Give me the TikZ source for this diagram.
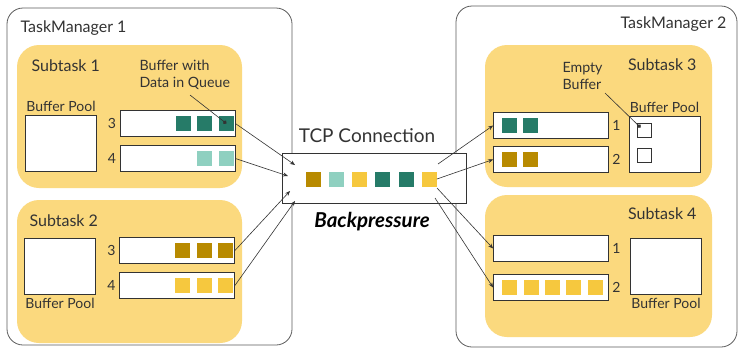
\documentclass[tikz,border=0pt]{standalone}
\usepackage{fontspec}
\setmainfont{Lato}
\usepackage{xcolor}
\usepackage{tikz}
\usetikzlibrary{arrows.meta, positioning, calc}
\definecolor{Ink}{HTML}{333333}
\definecolor{Sand}{HTML}{FBD97E}
\definecolor{Teal}{HTML}{267B68}
\definecolor{Mint}{HTML}{8FD0C0}
\definecolor{Ochre}{HTML}{B88A00}
\definecolor{Sun}{HTML}{F6C83E}

\begin{document}
\begin{tikzpicture}[
        x=1pt, y=-1pt,
        font=\fontsize{14}{16}\selectfont, text=Ink,
        rel/.style={-{Stealth[length=5pt,width=4pt]}, line width=0.6pt, draw=Ink},
        pin/.style={-{Circle[length=4pt]}, line width=0.6pt, draw=Ink},
        manager/.style={draw=Ink!80, fill=white, rounded corners=16pt, line width=0.8pt, minimum width=#1, minimum height=341pt, inner sep=0pt},
        subtask/.style={fill=Sand, rounded corners=22pt, minimum width=#1, minimum height=143pt, inner sep=0pt},
        queue/.style={draw=Ink, fill=white, line width=0.8pt, minimum width=115pt, minimum height=26pt, inner sep=0pt},
        pool/.style={draw=Ink, fill=white, line width=0.8pt, minimum width=71pt, minimum height=56pt, inner sep=0pt},
        slot/.style={fill=#1, minimum size=15pt, inner sep=0pt},
        empty/.style={draw=Ink, fill=white, line width=0.7pt, minimum size=14pt, inner sep=0pt},
        big/.style={font=\fontsize{16}{19}\selectfont}
      ]
        \useasboundingbox (0,0) rectangle (738,349);
        % task managers
        \node[manager=285pt, minimum height=337pt] (tm1) at (149.5,176.5) {};
        \node[manager=281pt] (tm2) at (596.5,176.5) {};
        \node[big, anchor=west] (tm1label) at (17,28) {TaskManager 1};
        \node[big, anchor=east] (tm2label) at (730,24) {TaskManager 2};

        % subtasks
        \node[subtask=225pt] (sub1) at (129.5,116.5) {};
        \node[subtask=225pt] (sub2) at (129.5,271.5) {};
        \node[subtask=227pt, minimum height=142pt] (sub3) at (598.5,116) {};
        \node[subtask=227pt, minimum height=142pt] (sub4) at (598.5,266) {};
        \node[big, anchor=west] (sub1label) at (28,66) {Subtask 1};
        \node[big, anchor=west] (sub2label) at (26,221) {Subtask 2};
        \node[big, anchor=east] (sub3label) at (700,65) {Subtask 3};
        \node[big, anchor=east] (sub4label) at (700,214) {Subtask 4};

        % buffer pools
        \node[pool] (pool1) at (61,143.5) {};
        \node[pool] (pool2) at (60,266) {};
        \node[pool] (pool3) at (664.5,144.5) {};
        \node[pool] (pool4) at (666,266) {};
        \node[above=0pt of pool1] (pool1label) {Buffer Pool};
        \node[below=0pt of pool2] (pool2label) {Buffer Pool};
        \node[above=0pt of pool3] (pool3label) {Buffer Pool};
        \node[below=0pt of pool4] (pool4label) {Buffer Pool};
        \node[empty] (free1) at (644.5,130.5) {};
        \node[empty] (free2) at (644.5,155) {};

        % input and output queues
        \node[queue] (q13) at (177.5,123.5) {};
        \node[queue] (q14) at (177.5,158.5) {};
        \node[queue] (q23) at (177,250.5) {};
        \node[queue] (q24) at (177,285.5) {};
        \node[queue] (q31) at (551,125.5) {};
        \node[queue] (q32) at (551,159.5) {};
        \node[queue] (q41) at (551,248.5) {};
        \node[queue] (q42) at (551,287.5) {};
        \node[left=0pt of q13] {3};
        \node[left=0pt of q14] {4};
        \node[left=0pt of q23] {3};
        \node[left=0pt of q24] {4};
        \node[right=0pt of q31] {1};
        \node[right=0pt of q32] {2};
        \node[right=0pt of q41] {1};
        \node[right=0pt of q42] {2};

        \foreach \i/\c in {1/Teal,2/Teal,3/Teal}
          \node[slot=\c] (q13s\i) at ($(q13.east)+(-73.5+21.5*\i,0)$) {};
        \foreach \i/\c in {2/Mint,3/Mint}
          \node[slot=\c] (q14s\i) at ($(q14.east)+(-73.5+21.5*\i,0)$) {};
        \foreach \i/\c in {1/Ochre,2/Ochre,3/Ochre}
          \node[slot=\c] (q23s\i) at ($(q23.east)+(-73.5+21.5*\i,0)$) {};
        \foreach \i/\c in {1/Sun,2/Sun,3/Sun}
          \node[slot=\c] (q24s\i) at ($(q24.east)+(-73.5+21.5*\i,0)$) {};
        \foreach \i/\c in {1/Teal,2/Teal}
          \node[slot=\c] (q31s\i) at ($(q31.west)+(-5+21*\i,0)$) {};
        \foreach \i/\c in {1/Ochre,2/Ochre}
          \node[slot=\c] (q32s\i) at ($(q32.west)+(-5+21*\i,0)$) {};
        \foreach \i in {1,...,5}
          \node[slot=Sun] (q42s\i) at ($(q42.west)+(-4.5+21.3*\i,0)$) {};

        % tcp connection
        \node[draw=Ink, fill=white, line width=0.8pt, minimum width=184pt, minimum height=50pt, inner sep=0pt] (tcp) at (374,178) {};
        \node[font=\fontsize{19}{22}\selectfont] (tcplabel) at (367,136) {TCP Connection};
        \node[font=\fontsize{20.5}{24}\selectfont\bfseries\itshape, text=black] (back) at (372,222) {Backpressure};
        \foreach \i/\c in {1/Ochre,2/Mint,3/Sun,4/Teal,5/Teal,6/Sun}
          \node[slot=\c] (t\i) at (290+23.2*\i,179) {};

        % connectors
        \coordinate (in1) at (295,165);
        \coordinate (in2) at (288,176);
        \coordinate (in3) at (290,191);
        \coordinate (in4) at (295,201);
        \coordinate (out1) at (438,164);
        \coordinate (out3) at (437,188);
        \coordinate (out4) at (435,198);
        \draw[rel] (q13.east) -- (in1);
        \draw[rel] (q14.east) -- (in2);
        \draw[rel] (q23.east) -- (in3);
        \draw[rel] (q24.east) -- (in4);
        \draw[rel] (out1) -- (q31.west);
        \draw[rel] (t6.east) -- (q32.west);
        \draw[rel] (out3) -- (q41.west);
        \draw[rel] (out4) -- (q42.west);

        % annotations
        \node[anchor=west, align=left, font=\fontsize{14.2}{16.5}\selectfont] (dataq) at (136,75) {Buffer with\\Data in Queue};
        \node[anchor=west, align=left, font=\fontsize{14.2}{16.5}\selectfont] (emptyb) at (559,76) {Empty\\Buffer};
        \coordinate (dataqfoot) at (190,95);
        \coordinate (emptyfoot) at (605,93);
        \draw[pin] (dataqfoot) -- (q13s3.center);
        \draw[pin] (emptyfoot) -- ($(free1.center)+(-4,-3)$);
      \end{tikzpicture}
\end{document}
